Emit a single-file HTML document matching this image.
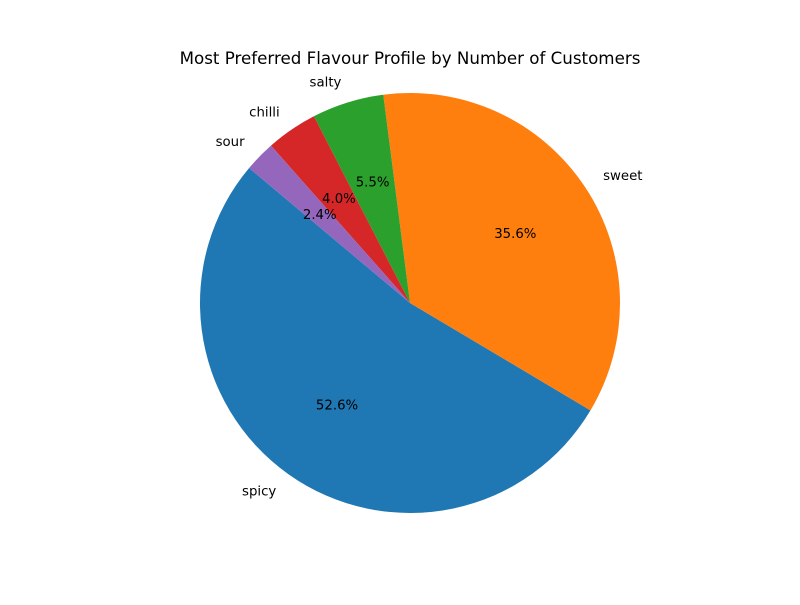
<!DOCTYPE html>
<html><head><meta charset="utf-8"><style>
body{margin:0;background:#fff}
svg text{font-family:"DejaVu Sans","Liberation Sans",sans-serif}
</style></head><body>
<svg id="chart" width="800" height="600" viewBox="0 0 800 600">
<rect width="800" height="600" fill="#fff"/>
<text x="410" y="64" text-anchor="middle" font-size="16.7" fill="#000">Most Preferred Flavour Profile by Number of Customers</text>
<g id="slices"></g>
</svg>
<script>
const categories = ["spicy", "sweet", "salty", "chilli", "sour"];
const values = [133, 90, 14, 10, 6];
const colors = ["#1f77b4", "#ff7f0e", "#2ca02c", "#d62728", "#9467bd"];
const startAngle = 140;
const cx = 410, cy = 303, R = 210;
const NS = "http://www.w3.org/2000/svg";
const g = document.getElementById("slices");
const total = values.reduce((a, b) => a + b, 0);
function pt(deg, r) { const a = deg * Math.PI / 180; return [cx + r * Math.cos(a), cy - r * Math.sin(a)]; }
let ang = startAngle;
const texts = [];
values.forEach((v, i) => {
  const sweep = v / total * 360;
  const a0 = ang, a1 = ang + sweep;
  const p0 = pt(a0, R), p1 = pt(a1, R);
  const path = document.createElementNS(NS, "path");
  path.setAttribute("d", `M${cx},${cy} L${p0[0]},${p0[1]} A${R},${R} 0 ${sweep > 180 ? 1 : 0} 0 ${p1[0]},${p1[1]} Z`);
  path.setAttribute("fill", colors[i]);
  
  
  g.appendChild(path);
  const mid = (a0 + a1) / 2;
  const lp = pt(mid, R * 1.1);
  const lab = document.createElementNS(NS, "text");
  lab.setAttribute("x", lp[0]); lab.setAttribute("y", lp[1] + 4);
  lab.setAttribute("text-anchor", Math.cos(mid * Math.PI / 180) > 0 ? "start" : "end");
  lab.setAttribute("font-size", "13.3");
  lab.textContent = categories[i];
  
  
  texts.push(lab);
  const pp = pt(mid, R * 0.6);
  const pc = document.createElementNS(NS, "text");
  pc.setAttribute("x", pp[0]); pc.setAttribute("y", pp[1] + 4);
  pc.setAttribute("text-anchor", "middle");
  pc.setAttribute("font-size", "13.3");
  pc.textContent = (v / total * 100).toFixed(1) + "%";
  
  
  texts.push(pc);
  ang = a1;
});
texts.forEach(t => g.appendChild(t));
</script>
</body></html>
